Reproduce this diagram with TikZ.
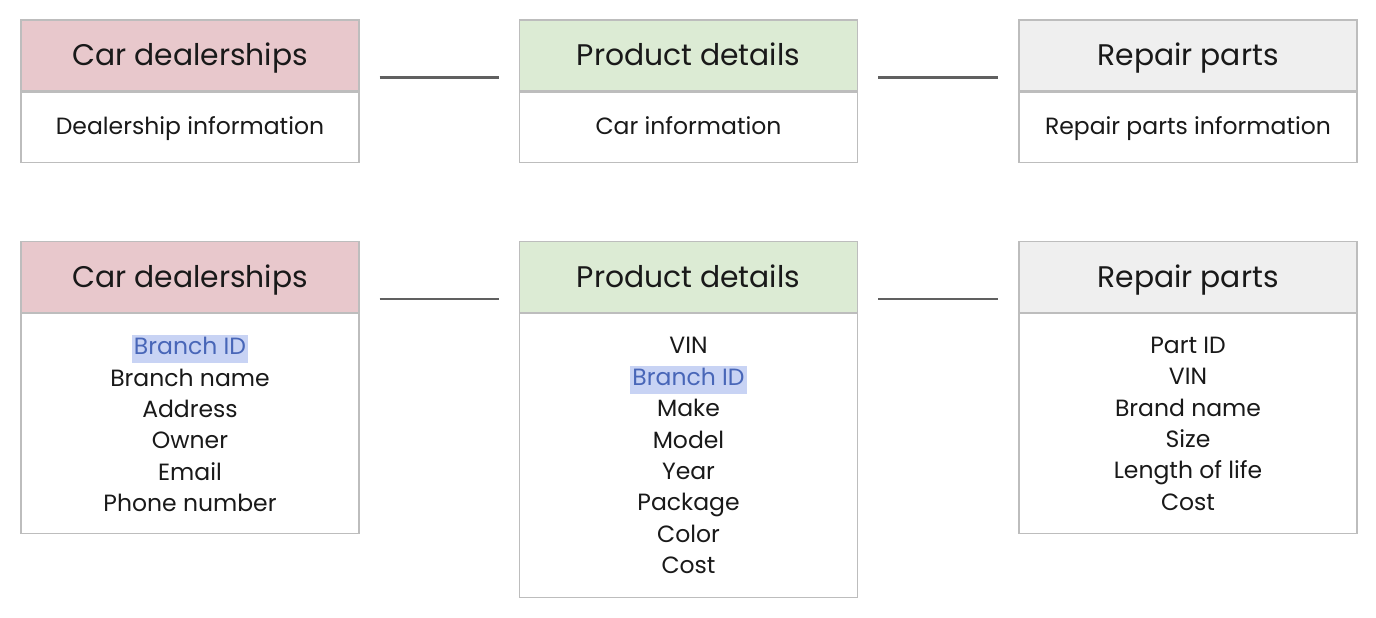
\documentclass[tikz,border=0pt]{standalone}
\usepackage{fontspec}
\setmainfont{Poppins}
\usetikzlibrary{positioning}
\definecolor{pinkhd}{HTML}{E8C8CC}
\definecolor{greenhd}{HTML}{DCEBD4}
\definecolor{greyhd}{HTML}{EFEFEF}
\definecolor{bordergrey}{HTML}{BDBDBD}
\definecolor{connline}{HTML}{606060}
\definecolor{hlbg}{HTML}{C8D3F4}
\definecolor{hltext}{HTML}{4866B8}
\newcommand{\hlid}[1]{{\setlength\fboxsep{2pt}\colorbox{hlbg}{\textcolor{hltext}{\vphantom{Bg}#1}}}}
\begin{document}
\begin{tikzpicture}[x=1pt,y=-1pt,
  header/.style={draw=bordergrey, line width=1.2pt, minimum width=338pt, minimum height=71pt, inner sep=0pt, text height=21pt, text depth=0pt, font=\fontsize{29.8}{34}\selectfont, text=black!90},
  bodybox/.style={draw=bordergrey, line width=1.2pt, minimum width=338pt, inner sep=0pt, anchor=north, align=center, font=\fontsize{23.5}{31.4}\selectfont, text=black!90},
  onebody/.style={bodybox, minimum height=70pt, text height=17pt, text depth=3pt},
  conn/.style={draw=connline, line width=2.6pt, shorten <=20pt, shorten >=20pt}]
\useasboundingbox (0,0) rectangle (1376,618);
% top row
\node[header, fill=pinkhd] (h1) at (190,55.5) {Car dealerships};
\node[header, fill=greenhd] (h2) at (688.5,55.5) {Product details};
\node[header, fill=greyhd] (h3) at (1188,55.5) {Repair parts};
\node[onebody] (b1) at (h1.south) {Dealership information};
\node[onebody] (b2) at (h2.south) {Car information};
\node[onebody] (b3) at (h3.south) {Repair parts information};
\draw[conn] ([yshift=14pt]h1.south east) -- ([yshift=14pt]h2.south west);
\draw[conn] ([yshift=14pt]h2.south east) -- ([yshift=14pt]h3.south west);
% bottom row
\node[header, fill=pinkhd] (H1) at (190,277) {Car dealerships};
\node[header, fill=greenhd] (H2) at (688.5,277) {Product details};
\node[header, fill=greyhd] (H3) at (1188,277) {Repair parts};
\node[bodybox, minimum height=220pt] (B1) at (H1.south) {\hlid{Branch ID}\\Branch name\\Address\\Owner\\Email\\Phone number};
\node[bodybox, minimum height=284pt] (B2) at (H2.south) {VIN\\\hlid{Branch ID}\\Make\\Model\\Year\\Package\\Color\\Cost};
\node[bodybox, minimum height=220pt] (B3) at (H3.south) {Part ID\\VIN\\Brand name\\Size\\Length of life\\Cost};
\draw[conn] ([yshift=14pt]H1.south east) -- ([yshift=14pt]H2.south west);
\draw[conn] ([yshift=14pt]H2.south east) -- ([yshift=14pt]H3.south west);
\end{tikzpicture}
\end{document}
